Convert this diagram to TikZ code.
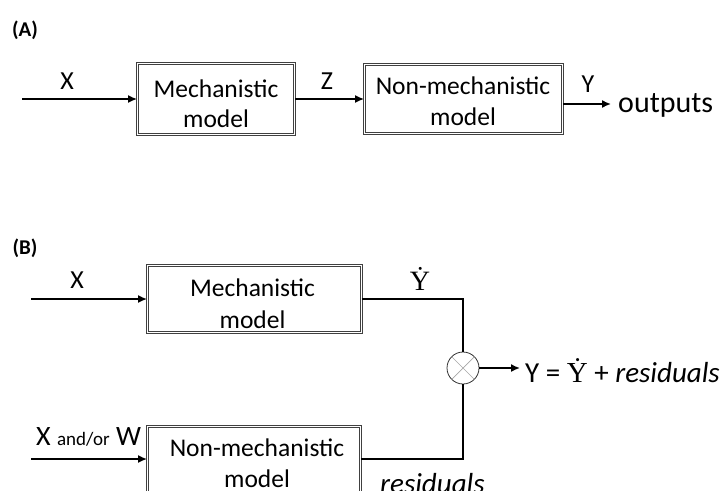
\documentclass[tikz,border=0pt]{standalone}
\usepackage{fontspec}
\setmainfont{Carlito}
\newfontfamily\seriffont{Liberation Serif}
\usetikzlibrary{arrows.meta}
\begin{document}
\begin{tikzpicture}[x=1pt,y=-1pt,
  model/.style={draw=black!75,double=white,double distance=1.4pt,line width=0.9pt,inner sep=0pt},
  mtext/.style={inner sep=0pt,anchor=base,font=\fontsize{25.5}{30}\selectfont},
  lbl/.style={inner sep=0pt,anchor=base,font=\fontsize{26}{30}\selectfont},
  panel/.style={inner sep=0pt,font=\bfseries\fontsize{21}{24}\selectfont},
  arr/.style={line width=1.6pt,-{Latex[length=9pt,width=8pt]}},
  conn/.style={line width=1.3pt}]
\useasboundingbox (0,0) rectangle (727,490);
\clip (0,0) rectangle (727,490);
% Panel A
\node[panel] (pa) at (25,30) {(A)};
\coordinate (ax) at (22,99);
\node[model,minimum width=157pt,minimum height=71pt] (am) at (216,99) {};
\node[mtext] (am1) at (216,97) {Mechanistic};
\node[mtext] (am2) at (216,127) {model};
\node[model,minimum width=198pt,minimum height=69pt] (an) at (463.5,99) {};
\node[mtext] (an1) at (463,94) {Non-mechanistic};
\node[mtext] (an2) at (463,125) {model};
\coordinate (ay) at (611,104);
\draw[arr] (ax) -- (am.west);
\draw[arr] (am.east) -- (an.west);
\draw[arr] (an.east|-ay) -- (ay);
\node[lbl] (lx) at (67,89) {X};
\node[lbl] (lz) at (327,89) {Z};
\node[lbl] (ly) at (588,92) {Y};
\node[lbl,anchor=base west,font=\fontsize{30}{32}\selectfont] (out) at (618,112) {outputs};
% Panel B
\node[panel] (pb) at (25,248) {(B)};
\coordinate (bx) at (31,299);
\node[model,minimum width=214pt,minimum height=67pt] (bm) at (254.5,299) {};
\node[mtext] (bm1) at (252.5,296) {Mechanistic};
\node[mtext] (bm2) at (252.5,328) {model};
\node[model,minimum width=213pt,minimum height=67pt] (bn) at (254,460) {};
\node[mtext] (bn1) at (257,456) {Non-mechanistic};
\node[mtext] (bn2) at (257,487) {model};
\coordinate (bw) at (31,459);
\node[draw=black!80,line width=0.8pt,circle,minimum size=32pt,inner sep=0pt] (sum) at (463,368) {};
\draw[black!35,line width=0.7pt] (sum.north west) -- (sum.south east) (sum.north east) -- (sum.south west);
\draw[arr] (bx) -- (bm.west);
\draw[arr] (bw) -- (bn.west|-bw);
\draw[conn] (bm.east) -| (sum.north);
\draw[conn] (bn.east|-bw) -| (sum.south);
\coordinate (bo) at (520,368);
\draw[arr] (sum.east) -- (bo);
\node[lbl] (bxl) at (77,288) {X};
\node[inner sep=0pt,anchor=base,font=\seriffont\fontsize{28}{30}\selectfont] (yd) at (420,290) {\.{Y}};
\node[lbl,anchor=base west,font=\fontsize{29}{32}\selectfont] (eq) at (525,382) {Y = {\seriffont\.{Y}} + \textit{residuals}};
\node[lbl,anchor=base west,font=\fontsize{28}{30}\selectfont] (xw) at (36,445) {X {\fontsize{19}{20}\selectfont and/or} W};
\node[lbl,anchor=base west,font=\fontsize{29}{30}\selectfont] (res) at (380,493) {\textit{residuals}};
\end{tikzpicture}
\end{document}
